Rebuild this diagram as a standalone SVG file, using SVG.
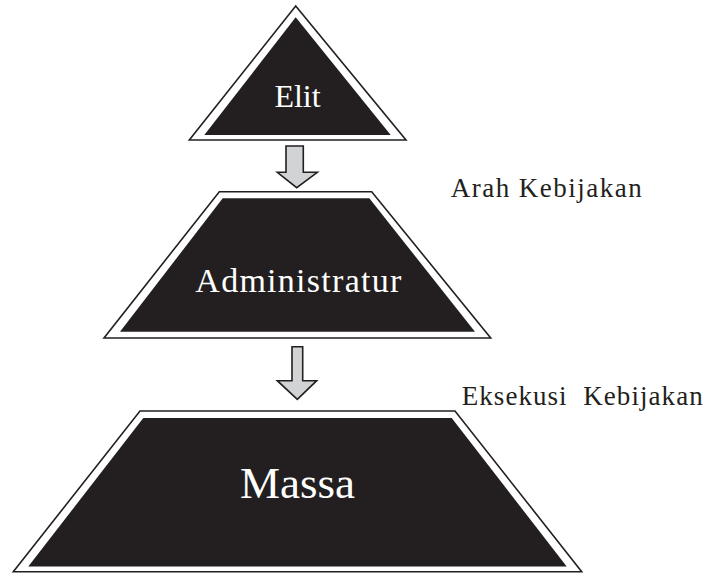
<svg xmlns="http://www.w3.org/2000/svg" width="708" height="573" viewBox="0 0 708 573">
  <style>
    .outline { fill: #ffffff; stroke: #231f20; stroke-width: 1.6; stroke-linejoin: miter; }
    .core { fill: #231f20; stroke: none; }
    .arrow { fill: #d1d3d4; stroke: #231f20; stroke-width: 1.6; stroke-linejoin: miter; }
    .in { font-family: "Liberation Serif", "Times New Roman", serif; fill: #ffffff; text-anchor: middle; }
    .note { font-family: "Liberation Serif", "Times New Roman", serif; fill: #231f20; font-size: 27px; white-space: pre; }
  </style>
  <rect x="0" y="0" width="708" height="573" fill="#ffffff"/>

  <!-- top tier -->
  <g id="elit">
    <polygon class="outline" points="295.7,6 406,140 189.3,140"/>
    <polygon class="core" points="295.7,17.3 390.7,135 204.3,135"/>
    <text class="in" x="297.5" y="107" font-size="32">Elit</text>
  </g>

  <!-- middle tier -->
  <g id="administratur">
    <polygon class="outline" points="219.3,191.7 371.7,191.7 490.7,338 104,338"/>
    <polygon class="core" points="222.7,198.3 369.3,198.3 475,331.7 120,331.7"/>
    <text class="in" x="298.3" y="291.7" font-size="34" textLength="206" lengthAdjust="spacing">Administratur</text>
  </g>

  <!-- base tier -->
  <g id="massa">
    <polygon class="outline" points="140,411 455,411 581.7,571.7 13.3,571.7"/>
    <polygon class="core" points="143.3,418 451.7,418 566.7,566.5 28.3,566.5"/>
    <text class="in" x="297.5" y="498" font-size="45">Massa</text>
  </g>

  <!-- flow arrows and their notes -->
  <g id="connectors">
    <polygon class="arrow" points="286,146 303.3,146 303.3,172.3 317.3,172.3 296.7,187.7 277.3,172.3 286,172.3"/>
    <polygon class="arrow" points="292,346.7 302.7,346.7 302.7,380.7 316.7,380.7 297.3,399.3 277.3,380.7 292,380.7"/>
    <text class="note" x="450.7" y="196.7" textLength="191" lengthAdjust="spacing">Arah Kebijakan</text>
    <text class="note" x="461.7" y="405" textLength="241" lengthAdjust="spacing">Eksekusi  Kebijakan</text>
  </g>
</svg>
